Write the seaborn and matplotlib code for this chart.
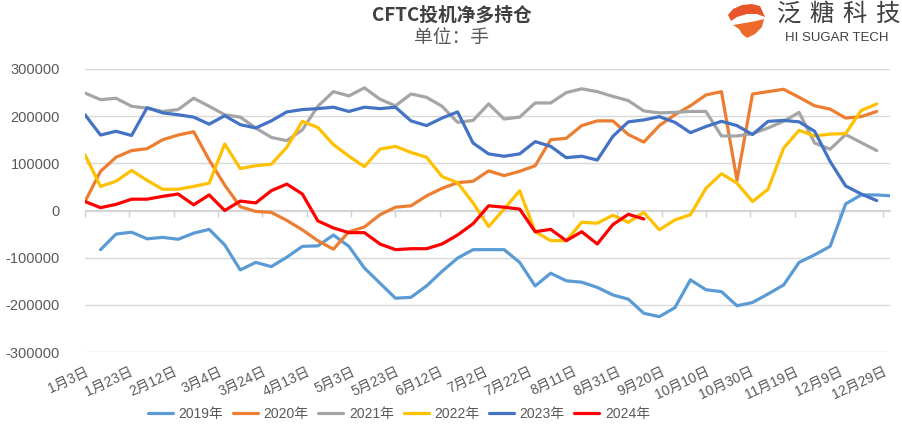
import numpy as np
import pandas as pd
import matplotlib.pyplot as plt
import seaborn as sns
from matplotlib.patches import Polygon
from matplotlib.ticker import FuncFormatter

# CFTC net long positions, thousands of contracts, one value per week
# week 0 = Jan 3 (2019 starts one week later)
years = ['2019年', '2020年', '2021年', '2022年', '2023年', '2024年']
first_week = [1, 0, 0, 0, 0, 0]
colors = ['#5B9BD5', '#ED7D31', '#A5A5A5', '#FFC000', '#4472C4', '#FF0000']

y2019 = [-83, -50, -46, -60, -57, -61, -48, -40, -73, -126, -110, -119, -99, -76, -75, -52,
         -76, -122, -154, -186, -184, -160, -129, -101, -83, -83, -83, -110, -160, -133, -149, -152, -163,
         -179, -188, -218, -225, -206, -147, -168, -172, -202, -195, -177, -158, -110, -94, -76, 14, 33, 33, 31]
y2020 = [19, 83, 113, 127, 131, 150, 160, 167, 107, 54, 8, -2, -4, -21, -41, -64, -82,
         -45, -35, -9, 7, 10, 31, 47, 59, 62, 84, 74, 83, 95, 150, 153, 180, 190,
         190, 161, 145, 180, 203, 222, 245, 252, 64, 247, 252, 257, 240, 222, 215, 196, 199, 210]
y2021 = [249, 235, 238, 221, 217, 210, 214, 238, 221, 203, 198, 175, 155, 148, 171, 221, 252,
         243, 260, 236, 222, 247, 240, 221, 187, 191, 226, 194, 198, 228, 228, 250, 258, 252,
         242, 233, 211, 207, 208, 210, 210, 158, 158, 163, 175, 189, 208, 143, 130, 161, 144, 127]
y2022 = [118, 51, 62, 85, 64, 45, 45, 51, 58, 141, 89, 95, 98, 134, 189, 176, 140,
         115, 93, 130, 136, 123, 113, 72, 59, 16, -34, 3, 42, -45, -64, -64, -25, -27,
         -10, -25, -4, -41, -20, -9, 47, 78, 58, 19, 45, 132, 170, 158, 162, 163, 212, 226]
y2023 = [203, 160, 168, 159, 218, 207, 203, 198, 183, 201, 182, 175, 190, 209, 214, 216, 219,
         210, 219, 216, 219, 190, 180, 196, 209, 143, 120, 115, 120, 146, 136, 112, 115, 107,
         157, 188, 192, 199, 187, 165, 178, 189, 180, 161, 189, 191, 188, 168, 104, 52, 35, 21]
y2024 = [19, 6, 13, 24, 24, 30, 35, 12, 33, 0, 20, 16, 42, 56, 35, -22, -37,
         -47, -47, -71, -83, -81, -81, -71, -52, -28, 10, 7, 3, -45, -40, -64, -45, -71,
         -30, -8, -18]
series = [y2019, y2020, y2021, y2022, y2023, y2024]

tick_labels = ['1月3日', '1月23日', '2月12日', '3月4日', '3月24日', '4月13日', '5月3日',
               '5月23日', '6月12日', '7月2日', '7月22日', '8月11日', '8月31日', '9月20日',
               '10月10日', '10月30日', '11月19日', '12月9日', '12月29日']
tick_days = [20 * k for k in range(len(tick_labels))]

#long table for seaborn
rows = []
for name, first, vals in zip(years, first_week, series):
    for k, v in enumerate(vals):
        rows.append({'day': (first + k) * 7, 'value': v * 1000, 'year': name})
df = pd.DataFrame(rows)

sns.set_style('white')
plt.rcParams['font.family'] = ['Liberation Sans', 'Noto Sans CJK SC', 'DejaVu Sans']
plt.rcParams['axes.unicode_minus'] = False

fig = plt.figure(figsize=(9.03, 4.38), dpi=100)
ax = fig.add_axes([85 / 903, 1 - 352 / 438, 805 / 903, 283 / 438])

sns.lineplot(data=df, x='day', y='value', hue='year', hue_order=years, palette=colors,
             linewidth=2.3, estimator=None, errorbar=None, sort=False, ax=ax)

ax.set_xlim(0, 363)
ax.set_ylim(-300000, 300000)
ax.set_yticks(range(-300000, 300001, 100000))
ax.yaxis.set_major_formatter(FuncFormatter(lambda v, p: '%d' % v))
ax.grid(axis='y', color='#D9D9D9', linewidth=1)
ax.set_axisbelow(True)
for s in ax.spines.values():
    s.set_visible(False)
ax.set_xlabel('')
ax.set_ylabel('')

ax.set_xticks(tick_days)
ax.set_xticklabels(tick_labels, rotation=25, ha='right', rotation_mode='anchor')
ax.tick_params(axis='x', length=0, pad=9, labelsize=10, labelcolor='#595959')
ax.tick_params(axis='y', length=0, pad=18, labelsize=10.5, labelcolor='#595959')

# tick marks sit on the zero line
sec = ax.secondary_xaxis(0.5)
sec.set_alignment('bottom')
sec.set_xticks(tick_days)
sec.set_xticklabels([])
sec.tick_params(axis='x', direction='out', length=5, color='#D0D0D0', width=1)
sec.spines['bottom'].set_color('#D0D0D0')

# legend under the plot
handles, labels = ax.get_legend_handles_labels()
ax.legend_.remove()
fig.legend(handles, labels, loc='center', bbox_to_anchor=(399 / 903, 1 - 414 / 438), ncol=6,
           frameon=False, handlelength=1.8, handletextpad=0.4, columnspacing=0.7,
           fontsize=10, labelcolor='#595959')

# titles
fig.text(452 / 903, 1 - 15 / 438, 'CFTC投机净多持仓', ha='center', va='center', fontsize=13.5,
         fontweight='bold', color='#404040', family=['Noto Sans CJK SC', 'DejaVu Sans'])
fig.text(452 / 903, 1 - 38 / 438, '单位：手', ha='center', va='center', fontsize=13.5,
         color='#595959', family=['Noto Sans CJK SC', 'DejaVu Sans'])

# logo
def px(pts):
    return [(x / 903, 1 - y / 438) for x, y in pts]

upper = [(728, 15), (733, 9), (742, 5), (752, 4), (760, 6), (765, 17), (757, 14), (747, 14), (737, 17), (731, 21)]
lower = [(733, 25), (745, 23), (756, 21), (764, 19), (762, 27), (755, 34), (747, 38), (742, 34), (739, 29)]
fig.add_artist(Polygon(px(upper), closed=True, transform=fig.transFigure, color='#E9552B', lw=0))
fig.add_artist(Polygon(px(lower), closed=True, transform=fig.transFigure, color='#EE6A2C', lw=0))
for k, ch in enumerate('泛糖科技'):
    fig.text((789 + 32.7 * k) / 903, 1 - 14 / 438, ch, ha='center', va='center', fontsize=17.5,
             color='#3F3F3F', family=['Noto Sans CJK SC'])
fig.text(837 / 903, 1 - 38 / 438, 'HI SUGAR TECH', ha='center', va='center', fontsize=9.5,
         color='#3F3F3F')

fig.savefig('out.png', dpi=100)
